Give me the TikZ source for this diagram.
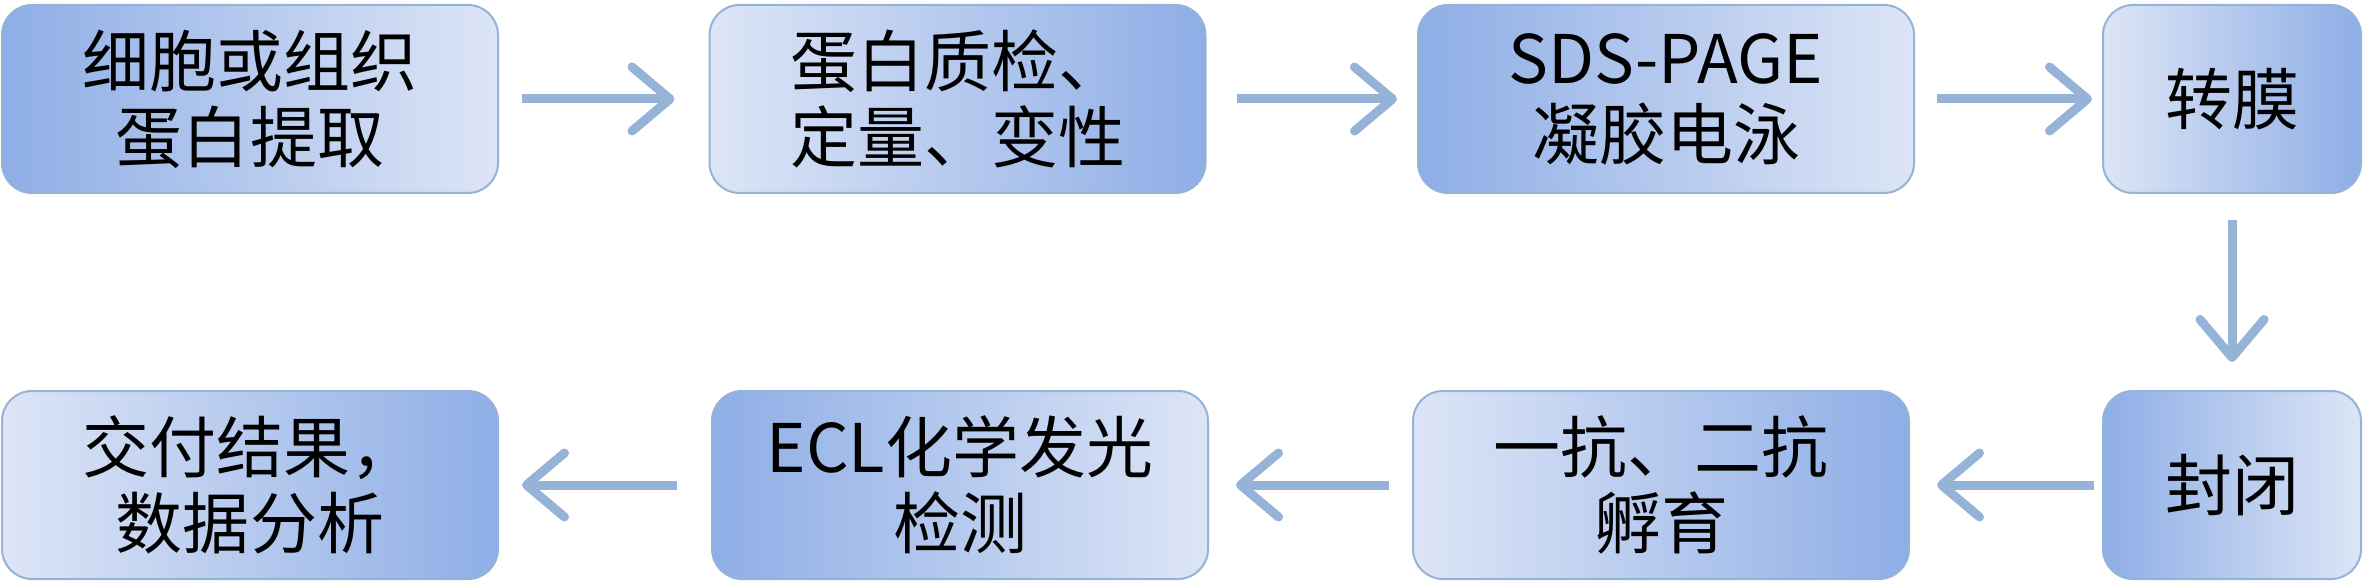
\documentclass[tikz,border=0pt]{standalone}
\usepackage{fontspec}
\setmainfont{Noto Sans CJK SC}
\usetikzlibrary{arrows.meta}
\definecolor{dk}{RGB}{142,174,230}
\definecolor{lt}{RGB}{221,229,246}
\definecolor{bd}{RGB}{149,179,215}
\definecolor{ar}{RGB}{149,179,215}
\tikzset{
  box/.style={draw=bd, line width=1pt, rounded corners=15pt, minimum height=94pt, align=center,
    font=\fontsize{33.5pt}{38pt}\selectfont, inner sep=0pt},
  wide/.style={box, minimum width=248pt},
  narrow/.style={box, minimum width=129pt},
  dl/.style={left color=dk, right color=lt},
  ld/.style={left color=lt, right color=dk},
  flow/.style={draw=ar, line width=4.5pt, -{Straight Barb[length=19pt, width=32pt, line cap=round, line join=round]}}
}
\begin{document}
\begin{tikzpicture}[x=0.5pt,y=-0.5pt]
\useasboundingbox (0,0) rectangle (2364,582);
\node[wide,dl] (b1) at (250,99) {细胞或组织\\蛋白提取};
\node[wide,ld] (b2) at (957.5,99) {蛋白质检、\\定量、变性};
\node[wide,dl] (b3) at (1666,99) {SDS-PAGE\\凝胶电泳};
\node[narrow,ld] (b4) at (2232,99) {转膜};
\node[narrow,dl] (b5) at (2232,485) {封闭};
\node[wide,ld] (b6) at (1661,485) {一抗、二抗\\孵育};
\node[wide,dl] (b7) at (960,485) {ECL化学发光\\检测};
\node[wide,ld] (b8) at (250,485) {交付结果，\\数据分析};
\draw[flow, shorten <=11.5pt, shorten >=17pt] (b1.east) -- (b2.west);
\draw[flow, shorten <=15pt, shorten >=10pt] (b2.east) -- (b3.west);
\draw[flow, shorten <=11pt, shorten >=5pt] (b3.east) -- (b4.west);
\draw[flow, shorten <=13pt, shorten >=14pt] (b4.south) -- (b5.north);
\draw[flow, shorten <=4pt, shorten >=13.5pt] (b5.west) -- (b6.east);
\draw[flow, shorten <=11.5pt, shorten >=13.5pt] (b6.west) -- (b7.east);
\draw[flow, shorten <=17pt, shorten >=11.5pt] (b7.west) -- (b8.east);
\end{tikzpicture}
\end{document}
